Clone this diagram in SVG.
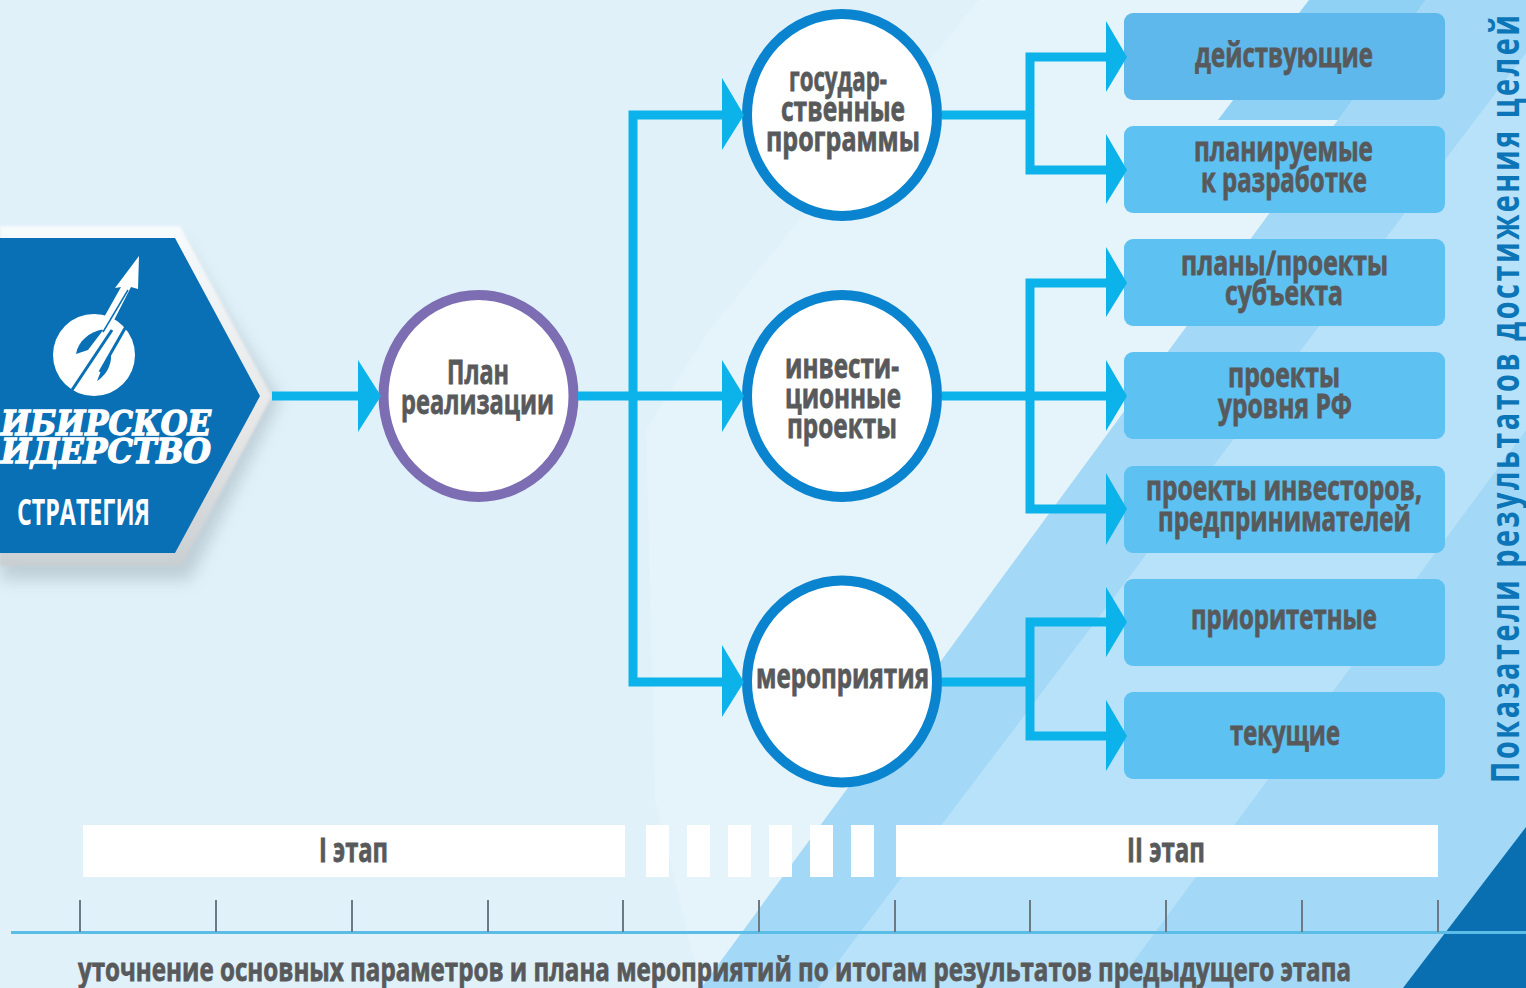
<svg xmlns="http://www.w3.org/2000/svg" width="1526" height="988" viewBox="0 0 1526 988">
<defs>
<style>
.t{font-family:"Open Sans","Liberation Sans",sans-serif;font-weight:700;font-size:34px;fill:#58595b;stroke:#58595b;stroke-width:.8}
.box{fill:#5dc1f1}
.ring{fill:#fff;stroke:#0b84d0;stroke-width:10}
.dash{fill:#fff}
.c{fill:none;stroke:#0cb3ea;stroke-width:9}
.h{fill:#0cb3ea}
.tick{stroke:#6d7a85;stroke-width:2}
.logo{font-family:"DejaVu Serif",serif;font-weight:700;font-style:italic;font-size:34px;fill:#fff;stroke:#fff;stroke-width:1.4}
</style>
<filter id="blur" x="-20%" y="-20%" width="140%" height="140%"><feGaussianBlur stdDeviation="8"/></filter>
<filter id="soft" x="-5%" y="-5%" width="110%" height="110%"><feGaussianBlur stdDeviation="1.5"/></filter>
<linearGradient id="halo" x1="0" y1="0" x2="0" y2="1"><stop offset="0" stop-color="#f7fbfd"/><stop offset=".6" stop-color="#e6e6e6"/><stop offset="1" stop-color="#c9cfd2"/></linearGradient>
</defs>
<g id="background">
<rect width="1526" height="988" fill="#e0f1f9"/>
<polygon points="960,23 978,0 1426,0 701,988 655,800 646,430 707,333" fill="#e5f3fa"/>
<polygon points="1426,0 1526,0 1526,988 701,988" fill="#a3d8f6"/>
<polygon points="1309,0 1426,0 1338,120 1218,120" fill="#8fd0f5"/>
<polygon points="1526,53 1526,430 1114,988 818,988" fill="#b8e2f9"/>
<polygon points="1526,827 1526,988 1403,988" fill="#0a6fb0"/>
</g>
<g id="strategy">
<polygon points="0,240 180,240 280,400 190,580 0,580" fill="#7f8f99" opacity=".35" filter="url(#blur)"/>
<polygon points="0,226 180,226 272,396 182,566 0,566" fill="url(#halo)" filter="url(#soft)"/>
<polygon points="0,238 175,238 260,396 175,553 0,553" fill="#0a70b5"/>
<circle cx="94" cy="355" r="41" fill="#fff"/>
<path d="M76 354C78 342 88 332 104 329L88 350Z" fill="#0a70b5"/>
<path d="M97 381C105 376 112 366 111 354L103 366Z" fill="#0a70b5"/>
<path d="M112 330L72 390" stroke="#0a70b5" stroke-width="3" fill="none"/>
<path d="M128 323L100 372" stroke="#0a70b5" stroke-width="3" fill="none"/>
<polygon points="139,256 138,289 131,287 108,332 98,328 121,287 115,288" fill="#fff"/>
<path d="M128 290L103 332" stroke="#0a70b5" stroke-width="1.5" fill="none"/>
<text class="logo" x="1" y="435" textLength="210" lengthAdjust="spacingAndGlyphs">ИБИРСКОЕ</text>
<text class="logo" x="1" y="463" textLength="210" lengthAdjust="spacingAndGlyphs">ИДЕРСТВО</text>
<text x="17" y="525" font-family="'Open Sans',sans-serif" font-weight="700" font-size="35" fill="#fff" textLength="133" lengthAdjust="spacingAndGlyphs">СТРАТЕГИЯ</text>
</g>
<g id="plan"><ellipse class="ring" style="stroke:#7d6db3" cx="478.5" cy="396" rx="95" ry="101"/>
<text class="t" x="447" y="384" textLength="62" lengthAdjust="spacingAndGlyphs">План</text>
<text class="t" x="401" y="414" textLength="153" lengthAdjust="spacingAndGlyphs">реализации</text></g>
<g id="gosprogrammy"><ellipse class="ring" cx="842" cy="115" rx="95" ry="101"/>
<text class="t" x="789" y="91" textLength="98" lengthAdjust="spacingAndGlyphs">государ-</text>
<text class="t" x="781" y="121" textLength="124" lengthAdjust="spacingAndGlyphs">ственные</text>
<text class="t" x="766" y="151" textLength="154" lengthAdjust="spacingAndGlyphs">программы</text></g>
<g id="invest"><ellipse class="ring" cx="842" cy="396" rx="95" ry="101"/>
<text class="t" x="785" y="378" textLength="114" lengthAdjust="spacingAndGlyphs">инвести-</text>
<text class="t" x="785" y="408" textLength="116" lengthAdjust="spacingAndGlyphs">ционные</text>
<text class="t" x="787" y="438" textLength="110" lengthAdjust="spacingAndGlyphs">проекты</text></g>
<g id="meropriyatiya"><ellipse class="ring" cx="842" cy="681.5" rx="95" ry="101"/>
<text class="t" x="756" y="688" textLength="173" lengthAdjust="spacingAndGlyphs">мероприятия</text></g>
<g id="box1"><rect class="box" style="fill:#5fb8ec" x="1124" y="13" width="321" height="87" rx="9"/><text class="t" x="1195" y="67" textLength="178" lengthAdjust="spacingAndGlyphs">действующие</text></g>
<g id="box2"><rect class="box" x="1124" y="126" width="321" height="87" rx="9"/><text class="t" x="1194" y="161" textLength="179" lengthAdjust="spacingAndGlyphs">планируемые</text><text class="t" x="1201" y="192" textLength="166" lengthAdjust="spacingAndGlyphs">к разработке</text></g>
<g id="box3"><rect class="box" x="1124" y="239" width="321" height="87" rx="9"/><text class="t" x="1181" y="275" textLength="207" lengthAdjust="spacingAndGlyphs">планы/проекты</text><text class="t" x="1225" y="305" textLength="118" lengthAdjust="spacingAndGlyphs">субъекта</text></g>
<g id="box4"><rect class="box" x="1124" y="352" width="321" height="87" rx="9"/><text class="t" x="1228" y="387" textLength="112" lengthAdjust="spacingAndGlyphs">проекты</text><text class="t" x="1218" y="418" textLength="134" lengthAdjust="spacingAndGlyphs">уровня РФ</text></g>
<g id="box5"><rect class="box" x="1124" y="466" width="321" height="87" rx="9"/><text class="t" x="1146" y="500" textLength="276" lengthAdjust="spacingAndGlyphs">проекты инвесторов,</text><text class="t" x="1158" y="531" textLength="253" lengthAdjust="spacingAndGlyphs">предпринимателей</text></g>
<g id="box6"><rect class="box" x="1124" y="579" width="321" height="87" rx="9"/><text class="t" x="1191" y="629" textLength="186" lengthAdjust="spacingAndGlyphs">приоритетные</text></g>
<g id="box7"><rect class="box" x="1124" y="692" width="321" height="87" rx="9"/><text class="t" x="1230" y="745" textLength="110" lengthAdjust="spacingAndGlyphs">текущие</text></g>
<g id="connectors">
<path class="c" d="M272 396H362"/><polygon class="h" points="358,360 381,396 358,432"/>
<path class="c" d="M578 396H726"/>
<path class="c" d="M726 115H633V682H726"/>
<polygon class="h" points="722,78 744,115 722,150"/><polygon class="h" points="722,360 744,396 722,432"/><polygon class="h" points="722,645 744,682 722,717"/>
<path class="c" d="M942 115H1030M1108 57H1030V170H1108"/>
<polygon class="h" points="1106,21 1127,57 1106,92"/><polygon class="h" points="1106,134 1127,170 1106,204"/>
<path class="c" d="M942 396H1108M1108 283H1030V509H1108"/>
<polygon class="h" points="1106,247 1127,283 1106,317"/><polygon class="h" points="1106,360 1127,396 1106,431"/><polygon class="h" points="1106,473 1127,509 1106,545"/>
<path class="c" d="M942 682H1030M1108 622H1030V736H1108"/>
<polygon class="h" points="1106,587 1127,622 1106,657"/><polygon class="h" points="1106,700 1127,736 1106,771"/>
</g>
<g id="side"><text transform="translate(1519,783) rotate(-90) scale(.8,1.1)" font-family="'Open Sans',sans-serif" font-weight="700" font-size="36" fill="#0b75b8" textLength="960" lengthAdjust="spacing">Показатели результатов достижения целей</text></g>
<g id="stages">
<rect class="dash" x="83" y="825" width="542" height="52"/>
<rect class="dash" x="646" y="825" width="23" height="52"/><rect class="dash" x="687" y="825" width="23" height="52"/><rect class="dash" x="728" y="825" width="23" height="52"/><rect class="dash" x="769" y="825" width="23" height="52"/><rect class="dash" x="810" y="825" width="23" height="52"/><rect class="dash" x="851" y="825" width="23" height="52"/>
<rect class="dash" x="896" y="825" width="542" height="52"/>
<text class="t" x="319" y="862" textLength="69" lengthAdjust="spacingAndGlyphs">I этап</text>
<text class="t" x="1127" y="862" textLength="78" lengthAdjust="spacingAndGlyphs">II этап</text>
</g>
<g id="timeline">
<path d="M11 932.5H1526" stroke="#5bbde6" stroke-width="3"/>
<path class="tick" d="M80 900V932M216 900V932M352 900V932M488 900V932M623 900V932M759 900V932M895 900V932M1030 900V932M1166 900V932M1302 900V932M1438 900V932"/>
<text class="t" x="78" y="981" textLength="1273" lengthAdjust="spacingAndGlyphs" style="font-size:32px">уточнение основных параметров и плана мероприятий по итогам результатов предыдущего этапа</text>
</g>
</svg>
